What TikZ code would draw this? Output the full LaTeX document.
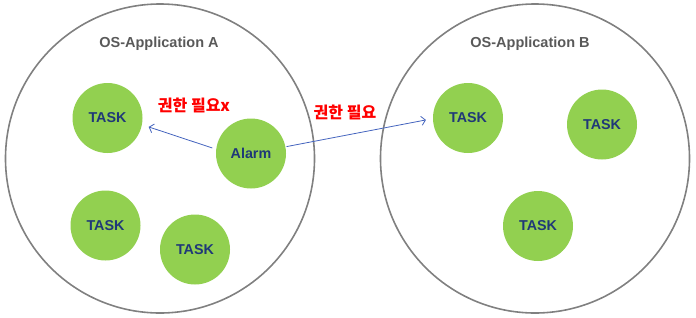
\documentclass[tikz,border=0pt]{standalone}
\usepackage{fontspec}
\setmainfont{Liberation Sans}
\newfontfamily\krfont{Noto Sans CJK KR}
\usetikzlibrary{arrows.meta}
\definecolor{taskgreen}{RGB}{146,208,80}
\definecolor{tasktext}{RGB}{31,56,120}
\definecolor{ringgray}{RGB}{128,128,128}
\definecolor{titlegray}{RGB}{89,89,89}
\definecolor{arrowblue}{RGB}{68,100,190}
\definecolor{labelred}{RGB}{255,0,0}
\tikzset{
  ring/.style={circle, draw=ringgray, line width=1.6pt, minimum size=309pt, inner sep=0pt},
  task/.style={circle, fill=taskgreen, minimum size=70pt, inner sep=0pt,
    text=tasktext, font=\fontsize{14.3}{16}\selectfont\bfseries},
  apptitle/.style={text=titlegray, font=\fontsize{14.5}{17}\selectfont\bfseries},
  permlabel/.style={text=labelred, font=\krfont\fontsize{16}{18}\selectfont\bfseries},
  link/.style={draw=arrowblue, line width=0.8pt, -{Straight Barb[length=4pt,width=9pt]}}
}
\begin{document}
\begin{tikzpicture}[x=1pt,y=-1pt]
\useasboundingbox (0,0) rectangle (696,317);
\node[ring] (ringA) at (160,158.5) {};
\node[ring] (ringB) at (535,158.5) {};
\node[apptitle] (titleA) at (159,44) {OS-Application A};
\node[apptitle] (titleB) at (530,44) {OS-Application B};
\node[task] (a1) at (107.5,118) {TASK};
\node[task] (alarm) at (251,153.5) {Alarm};
\node[task] (a2) at (105.5,225.5) {TASK};
\node[task] (a3) at (195,249.5) {TASK};
\node[task] (b1) at (468,118) {TASK};
\node[task] (b2) at (602,124.5) {TASK};
\node[task] (b3) at (538,226) {TASK};
\node[permlabel] (lab1) at (194,105) {권한 필요x};
\node[permlabel] (lab2) at (345,112) {권한 필요};
\draw[link, shorten <=4pt, shorten >=7pt] (alarm.173) -- (a1.-11);
\draw[link, shorten <=1pt, shorten >=7pt] (alarm.11) -- (b1.181);
\end{tikzpicture}
\end{document}
